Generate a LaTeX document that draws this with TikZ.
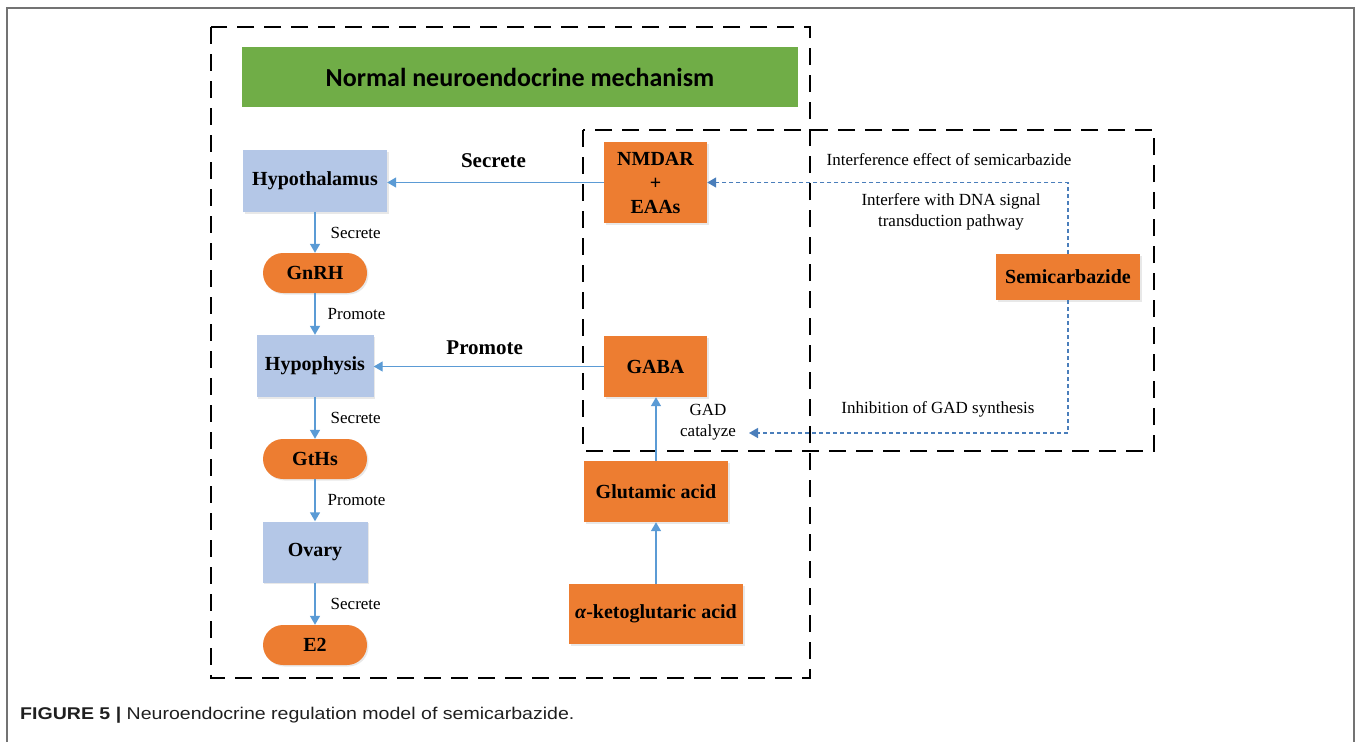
\documentclass[tikz,border=0pt]{standalone}
\usepackage{fontspec}
\setmainfont{Liberation Serif}
\newfontfamily\titlefont{Carlito}
\newfontfamily\capfont[FakeStretch=1.15]{Liberation Sans}
\usetikzlibrary{arrows.meta,shadows,calc}
\definecolor{lblue}{HTML}{B4C7E7}
\definecolor{orng}{HTML}{ED7D31}
\definecolor{grn}{HTML}{70AD47}
\definecolor{arrblue}{HTML}{5B9BD5}
\definecolor{dblue}{HTML}{4A7EBB}
\tikzset{
 base/.style={inner sep=0pt, align=center, font=\fontsize{20}{24}\selectfont\bfseries,
   drop shadow={opacity=0.18,shadow xshift=1.5pt,shadow yshift=-1.5pt}},
 bluebox/.style={base, fill=lblue, minimum height=62pt},
 orgbox/.style={base, fill=orng},
 pill/.style={base, fill=orng, rounded corners=20pt, minimum width=104pt, minimum height=40pt},
 flow/.style={arrblue, line width=1.4pt, -{Triangle[length=9pt,width=10pt]}},
 dflow/.style={dblue, line width=1.4pt, dash pattern=on 4pt off 3pt, -{Triangle[length=9pt,width=10pt]}},
 region/.style={line width=1.8pt, dash pattern=on 17pt off 10pt},
 lab/.style={font=\fontsize{17}{21}\selectfont, align=center, inner sep=0pt, text=black},
 blab/.style={font=\fontsize{21}{24}\selectfont\bfseries, inner sep=0pt, text=black},
}
\begin{document}
\begin{tikzpicture}[x=1pt,y=-1pt]
\useasboundingbox (0,0) rectangle (1355,742);
% outer frame
\draw[gray!90!black, line width=2pt] (7,742) -- (7,8) -- (1354,8) -- (1354,742);
% dashed regions
\draw[region] (211,27) rectangle (810,678);
\draw[region] (583,130) rectangle (1154,451);
% title
\node[fill=grn, minimum width=556pt, minimum height=60pt, inner sep=0pt,
  font=\titlefont\fontsize{26}{30}\selectfont\bfseries] (title) at (520,77) {Normal neuroendocrine mechanism};
% left column
\node[bluebox, minimum width=144pt] (hypo) at (315,181) {Hypothalamus};
\node[pill] (gnrh) at (315,273) {GnRH};
\node[bluebox, minimum width=117pt] (hyph) at (315,366) {Hypophysis};
\node[pill] (gths) at (315,459) {GtHs};
\node[bluebox, minimum width=105pt, minimum height=61pt] (ovary) at (315,552) {Ovary};
\node[pill] (e2) at (315,645) {E2};
% middle column
\node[orgbox, minimum width=103pt, minimum height=81pt] (nmdar) at (655.5,182.5) {NMDAR\\+\\EAAs};
\node[orgbox, minimum width=103pt, minimum height=61pt] (gaba) at (655.5,366.5) {GABA};
\node[orgbox, minimum width=144pt, minimum height=61pt] (glu) at (656,491.5) {Glutamic acid};
\node[orgbox, minimum width=174pt, minimum height=60pt] (akg) at (656,614) {{\itshape α}-ketoglutaric acid};
% right
\node[orgbox, minimum width=144pt, minimum height=46pt] (semi) at (1068,277) {Semicarbazide};
% labels
\node[lab] (t1) at (949,160) {Interference effect of semicarbazide};
\node[lab] (t2) at (951,212) {Interfere with DNA signal\\transduction pathway};
\node[lab] (t3) at (938,409) {Inhibition of GAD synthesis};
\node[lab] (gad) at (708,422) {GAD\\catalyze};
\coordinate (gadin) at (749,433);
% left flow
\draw[flow] (hypo.south) -- node[lab, anchor=west, xshift=15pt] {Secrete} (gnrh.north);
\draw[flow] (gnrh.south) -- node[lab, anchor=west, xshift=12pt] {Promote} (hyph.north);
\draw[flow] (hyph.south) -- node[lab, anchor=west, xshift=15pt] {Secrete} (gths.north);
\draw[flow] (gths.south) -- node[lab, anchor=west, xshift=12pt] {Promote} (ovary.north);
\draw[flow] (ovary.south) -- node[lab, anchor=west, xshift=15pt] {Secrete} (e2.north);
% horizontal flows
\draw[flow] (nmdar.west) -- node[blab, yshift=22pt, xshift=-2pt] {Secrete} (nmdar.west -| hypo.east);
\draw[flow] (gaba.west) -- node[blab, yshift=19pt, xshift=-4pt] {Promote} (gaba.west -| hyph.east);
% middle vertical flows
\draw[flow] (glu.north) -- (glu.north |- gaba.south);
\draw[flow] (akg.north) -- (glu.south);
% dashed influences
\draw[dflow] (semi.north) |- (nmdar.east);
\draw[dflow] (semi.south) |- (gadin);
% caption
\node[anchor=base west, inner sep=0pt, text=black!88, font=\capfont\fontsize{17}{20}\selectfont] (cap) at (20,719)
  {\textbf{FIGURE 5 |} Neuroendocrine regulation model of semicarbazide.};
\end{tikzpicture}
\end{document}
